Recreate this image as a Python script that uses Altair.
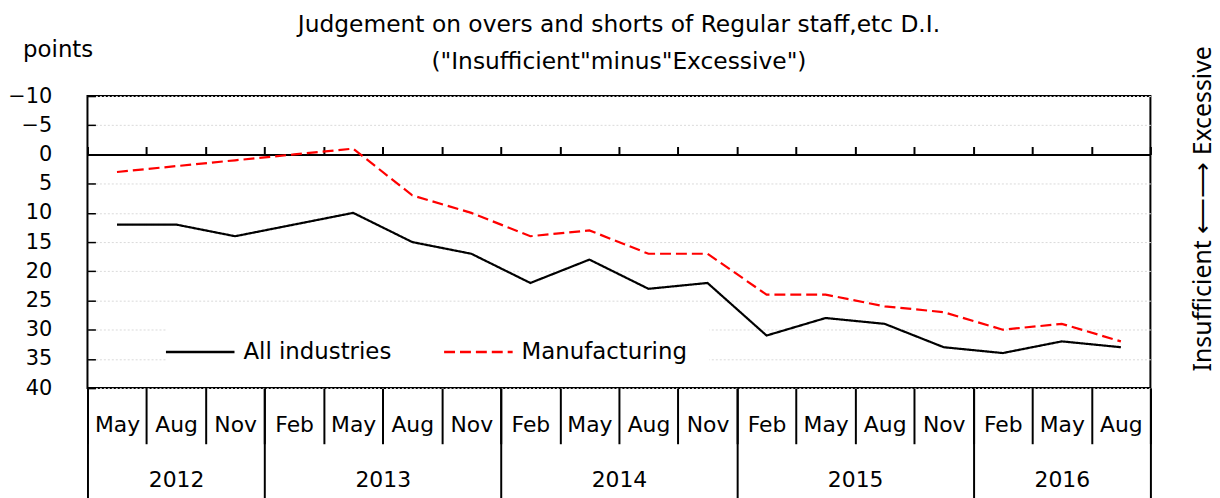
import altair as alt
import pandas as pd

# ---- data ----
months = ["May", "Aug", "Nov", "Feb", "May", "Aug", "Nov", "Feb", "May", "Aug",
          "Nov", "Feb", "May", "Aug", "Nov", "Feb", "May", "Aug"]
all_industries = [12, 12, 14, 12, 10, 15, 17, 22, 18, 23, 22, 31, 28, 29, 33, 34, 32, 33]
manufacturing = [3, 2, 1, 0, -1, 7, 10, 14, 13, 17, 17, 24, 24, 26, 27, 30, 29, 32]
series = ["All industries", "Manufacturing"]
years = ["2012", "2013", "2014", "2015", "2016"]
months_per_year = [3, 4, 4, 4, 3]
y_ticks = [-10, -5, 0, 5, 10, 15, 20, 25, 30, 35, 40]

n = len(months)
df = pd.DataFrame({
    "idx": list(range(n)) * 2,
    "value": all_industries + manufacturing,
    "series": [series[0]] * n + [series[1]] * n,
})

month_bounds = [i - 0.5 for i in range(n + 1)]
year_bounds = [-0.5]
for c in months_per_year:
    year_bounds.append(year_bounds[-1] + c)
year_centers = []
start = 0
for c in months_per_year:
    year_centers.append(start + (c - 1) / 2)
    start += c

month_expr = "[" + ",".join(f"'{m}'" for m in months) + "][datum.value]"
year_expr = ""
for i, y in enumerate(years[:-1]):
    year_expr += f"datum.value < {year_bounds[i + 1]} ? '{y}' : "
year_expr += f"'{years[-1]}'"

PLOT_W, PLOT_H = 1070, 294
Y_MIN, Y_MAX = -10, 40
FONT = "DejaVu Sans"

xscale = alt.Scale(domain=[-0.5, n - 0.5], nice=False, zero=False)
yscale = alt.Scale(domain=[Y_MIN, Y_MAX], reverse=True, nice=False, zero=False)

legend = alt.Legend(
    orient="none", legendX=80, legendY=224, direction="horizontal", title=None,
    symbolType="M-3.45,0H3.45", symbolSize=400, symbolStrokeWidth=2.5,
    labelFontSize=23, labelOffset=32, columnPadding=48, padding=22, labelLimit=400,
    fillColor="white", labelFont=FONT, labelColor="black",
)

main_y_axis = alt.Axis(
    orient="left", values=y_ticks, grid=True, gridColor="#dadada", gridDash=[2, 2],
    gridWidth=1, ticks=False, domain=False, labelFontSize=21, labelPadding=36,
    title="points", titleAngle=0, titleX=-30, titleY=-47, titleAlign="center",
    titleBaseline="middle", titleFontSize=23, titleFontWeight="normal",
)
month_axis = alt.Axis(
    orient="bottom", values=list(range(n)), labelExpr=month_expr, ticks=False,
    domain=False, grid=False, labelFontSize=22, labelPadding=37,
    labelBaseline="middle", labelFlush=False, labelOverlap=False, title=None,
)

lines = alt.Chart(df).mark_line(strokeWidth=2.2).encode(
    x=alt.X("idx:Q", scale=xscale, axis=month_axis),
    y=alt.Y("value:Q", scale=yscale, axis=main_y_axis),
    color=alt.Color("series:N", scale=alt.Scale(domain=series, range=["black", "#ff0000"]),
                    legend=legend),
    strokeDash=alt.StrokeDash("series:N", scale=alt.Scale(domain=series, range=[[1, 0], [11, 5]]),
                              legend=legend),
)


def ghost(xaxis, yaxis):
    return alt.Chart(df).mark_point(opacity=0).encode(
        x=alt.X("idx:Q", scale=xscale, axis=xaxis),
        y=alt.Y("value:Q", scale=yscale, axis=yaxis),
    )


month_sep_axis = alt.Axis(
    orient="bottom", values=month_bounds, labels=False, ticks=True, tickSize=56,
    tickWidth=2, tickColor="black", domain=False, grid=False, title=None,
)
inner_y_ticks = alt.Axis(
    orient="left", offset=-8, values=y_ticks, labels=False, ticks=True, tickSize=8,
    tickWidth=1.5, tickColor="black", domain=False, grid=False, title=None,
)
year_sep_axis = alt.Axis(
    orient="bottom", values=year_bounds, labels=False, ticks=True, tickSize=115,
    tickWidth=2, tickColor="black", domain=False, grid=False, title=None,
)
right_title_axis = alt.Axis(
    orient="right", labels=False, ticks=False, domain=False, grid=False,
    title="Insufficient ⟵⟶ Excessive", titleAngle=270, titleX=52, titleY=113,
    titleAlign="center", titleBaseline="middle", titleFont="Noto Sans",
    titleFontSize=25, titleFontWeight="normal",
)
year_axis = alt.Axis(
    orient="bottom", values=year_centers, labelExpr=year_expr, ticks=False,
    domain=False, grid=False, labelFontSize=22, labelPadding=92,
    labelBaseline="middle", labelFlush=False, labelOverlap=False, title=None,
)
zero_axis = alt.Axis(
    orient="top", offset=-PLOT_H * (0 - Y_MIN) / (Y_MAX - Y_MIN), values=month_bounds,
    labels=False, ticks=True, tickSize=8, tickWidth=2, tickColor="black",
    domain=True, domainColor="black", domainWidth=2, grid=False, title=None,
)

chart = alt.layer(
    lines,
    ghost(month_sep_axis, inner_y_ticks),
    ghost(year_sep_axis, right_title_axis),
    ghost(year_axis, None),
    ghost(zero_axis, None),
).resolve_axis(x="independent", y="independent").properties(
    width=PLOT_W, height=PLOT_H,
    autosize=alt.AutoSizeParams(type="none"),
    padding={"left": 80, "top": 87, "right": 62, "bottom": 110},
    title=alt.TitleParams(
        text=["Judgement on overs and shorts of Regular staff,etc D.I.",
              "(\"Insufficient\"minus\"Excessive\")"],
        font=FONT, fontSize=23.5, fontWeight="normal", color="black",
        anchor="middle", lineHeight=37, offset=-35,
    ),
).configure_axis(
    labelFont=FONT, titleFont=FONT, labelColor="black", titleColor="black",
).configure_view(stroke="black", strokeWidth=2)

chart.save("out.html", embed_options={"renderer": "svg", "actions": False})
